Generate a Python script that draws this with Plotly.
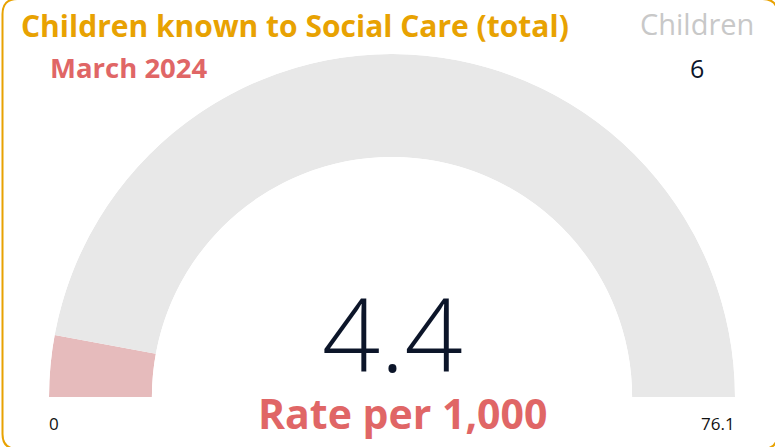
import plotly.graph_objects as go

# ---- data ----
title_text = "Children known to Social Care (total)"
period_label = "March 2024"
count_label = "Children"
count_value = 6
rate_value = 4.4
rate_label = "Rate per 1,000"
gauge_min = 0
gauge_max = 76.1

W, H = 775, 447
ORANGE = "#E8A202"
RED = "#E06666"
PINK = "#E6BBBC"
GREY = "#E8E8E8"
NAVY = "#0C1529"

frac = (rate_value - gauge_min) / (gauge_max - gauge_min)
ang = 180 * frac

fig = go.Figure()
fig.add_trace(go.Barpolar(
    r=[1, 1],
    theta=[ang / 2, ang + (180 - ang) / 2],
    width=[ang, 180 - ang],
    marker=dict(color=[PINK, GREY], line=dict(width=0)),
    hoverinfo="skip",
    showlegend=False,
))

# gauge geometry in pixels
cx, cy, R = 392, 397, 343
fig.update_layout(
    width=W, height=H,
    margin=dict(l=0, r=0, t=0, b=0),
    paper_bgcolor="white",
    plot_bgcolor="white",
    polar=dict(
        domain=dict(x=[(cx - R) / W, (cx + R) / W], y=[(H - cy) / H, (H - cy + R) / H]),
        sector=[0, 180],
        hole=0.70,
        bgcolor="rgba(0,0,0,0)",
        radialaxis=dict(visible=False, range=[0, 1]),
        angularaxis=dict(visible=False, rotation=180, direction="clockwise",
                         showgrid=False),
        bargap=0,
    ),
)

def px(x):
    return x / W

def py(y):
    return 1 - y / H

anns = [
    dict(text=title_text, x=px(19), y=py(26), xanchor="left", yanchor="middle",
         font=dict(family="Open Sans", size=30, color=ORANGE, weight=700)),
    dict(text=period_label, x=px(47.5), y=py(68), xanchor="left", yanchor="middle",
         font=dict(family="Open Sans", size=27.5, color=RED, weight=700)),
    dict(text=count_label, x=px(696.5), y=py(23), xanchor="center", yanchor="middle",
         font=dict(family="Open Sans", size=29, color="#C8C8C8", weight=400)),
    dict(text=str(count_value), x=px(697), y=py(68), xanchor="center", yanchor="middle",
         font=dict(family="Open Sans", size=25, color=NAVY, weight=400)),
    dict(text=f"{rate_value}", x=px(392), y=py(332), xanchor="center", yanchor="middle",
         font=dict(family="Open Sans", size=102, color=NAVY, weight=300)),
    dict(text=rate_label, x=px(402.5), y=py(413), xanchor="center", yanchor="middle",
         font=dict(family="Open Sans", size=41, color=RED, weight=700)),
    dict(text=str(gauge_min), x=px(53.5), y=py(423), xanchor="center", yanchor="middle",
         font=dict(family="Open Sans", size=17, color="#111111", weight=400)),
    dict(text=str(gauge_max), x=px(718), y=py(423.5), xanchor="center", yanchor="middle",
         font=dict(family="Open Sans", size=17, color="#111111", weight=400)),
]
for a in anns:
    a.update(xref="paper", yref="paper", showarrow=False)
fig.update_layout(annotations=anns)

# rounded border (mostly running just outside the visible area, as in the reference)
x0, y0, x1, y1, rr = 2.5, -1, 777.5, 449, 15
def P(x, y):
    return f"{px(x):.5f},{py(y):.5f}"
path = (f"M {P(x0+rr, y0)} L {P(x1-rr, y0)} Q {P(x1, y0)} {P(x1, y0+rr)} "
        f"L {P(x1, y1-rr)} Q {P(x1, y1)} {P(x1-rr, y1)} L {P(x0+rr, y1)} "
        f"Q {P(x0, y1)} {P(x0, y1-rr)} L {P(x0, y0+rr)} Q {P(x0, y0)} {P(x0+rr, y0)} Z")
fig.add_shape(type="path", path=path, xref="paper", yref="paper",
              line=dict(color=ORANGE, width=2))

fig.write_html("out.html", config={"displayModeBar": False},
               post_script="document.body.style.margin='0';")
